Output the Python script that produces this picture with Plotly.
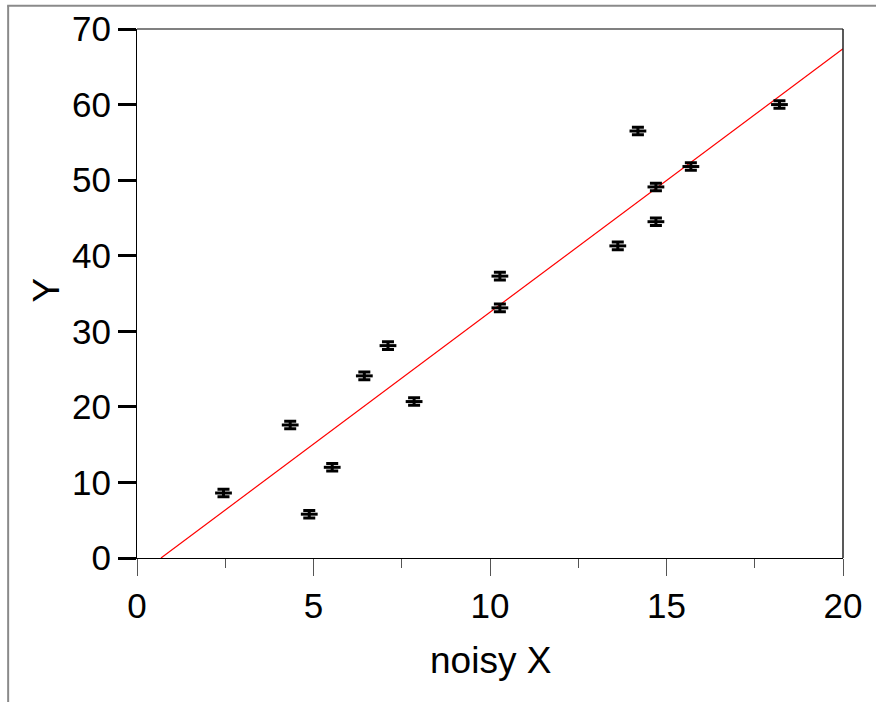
import plotly.graph_objects as go

# Data
noisy_x = [2.45, 4.34, 4.88, 5.53, 6.44, 7.11, 7.85, 10.28, 10.28, 13.62, 14.19, 14.70, 14.70, 15.69, 18.20]
y_vals = [8.6, 17.6, 5.8, 12.0, 24.1, 28.1, 20.7, 37.3, 33.1, 41.3, 56.5, 49.1, 44.5, 51.8, 60.0]
y_err = [0.5] * len(y_vals)

fit_x = [0.68, 20.0]
fit_y = [0.0, 67.4]

x_ticks = [0, 5, 10, 15, 20]
y_ticks = [0, 10, 20, 30, 40, 50, 60, 70]

x_title = "noisy X"
y_title = "Y"

FONT = "Liberation Sans, Arial, sans-serif"

fig = go.Figure()

fig.add_trace(go.Scatter(
    x=fit_x, y=fit_y, mode="lines",
    line=dict(color="#ff0000", width=1.2),
    showlegend=False, hoverinfo="skip",
))

fig.add_trace(go.Scatter(
    x=noisy_x, y=y_vals, mode="markers",
    marker=dict(symbol="line-ew", size=12, line=dict(color="black", width=3)),
    error_y=dict(type="data", array=y_err, symmetric=True, color="black",
                 thickness=3, width=6),
    showlegend=False,
))

W, H = 876, 702
L, R, T, B = 136.5, 843.3, 29.3, 558.0
pw, ph = R - L, B - T

def px_x(px):
    return (px - L) / pw

def px_y(py):
    return (B - py) / ph

shapes = [
    # outer gray frame (top and left)
    dict(type="line", xref="paper", yref="paper", x0=px_x(6.5), x1=px_x(W + 2), y0=px_y(6), y1=px_y(6),
         line=dict(color="#8a8a8a", width=2)),
    dict(type="line", xref="paper", yref="paper", x0=px_x(7.5), x1=px_x(7.5), y0=px_y(6), y1=px_y(H + 2),
         line=dict(color="#8a8a8a", width=2)),
    # plot box top (gray) and right (black)
    dict(type="line", xref="paper", yref="paper", x0=0, x1=1, y0=1, y1=1,
         line=dict(color="#808080", width=2)),
    dict(type="line", xref="paper", yref="paper", x0=1, x1=1, y0=0, y1=1,
         line=dict(color="#222222", width=1.5)),
]

annotations = [
    dict(text=x_title, xref="paper", yref="paper", x=px_x(490), y=px_y(660),
         xanchor="center", yanchor="middle", showarrow=False,
         font=dict(size=37, family=FONT, color="black")),
    dict(text=y_title, xref="paper", yref="paper", x=px_x(46), y=px_y(290),
         xanchor="center", yanchor="middle", showarrow=False, textangle=-90,
         font=dict(size=37, family=FONT, color="black")),
]

fig.update_layout(
    width=W, height=H,
    margin=dict(l=L, r=W - R, t=T, b=H - B, pad=0, autoexpand=False),
    paper_bgcolor="white", plot_bgcolor="white",
    font=dict(family=FONT, color="black", size=35),
    shapes=shapes,
    annotations=annotations,
    xaxis=dict(
        range=[0, 20], tickvals=x_ticks, ticktext=[str(v) for v in x_ticks],
        showgrid=False, zeroline=False, showline=True, linecolor="black", linewidth=1.2,
        ticks="outside", ticklen=17, tickwidth=1, tickcolor="#555555",
        minor=dict(dtick=2.5, ticks="outside", ticklen=9, tickwidth=1, tickcolor="#555555"),
        tickfont=dict(size=35, family=FONT), automargin=False,
    ),
    yaxis=dict(
        range=[0, 70], tickvals=y_ticks, ticktext=[str(v) for v in y_ticks],
        showgrid=False, zeroline=False, showline=True, linecolor="black", linewidth=1.2,
        ticks="outside", ticklen=18, tickwidth=2.5, tickcolor="black",
        tickfont=dict(size=35, family=FONT), automargin=False,
    ),
)

fig.write_html("out.html")
